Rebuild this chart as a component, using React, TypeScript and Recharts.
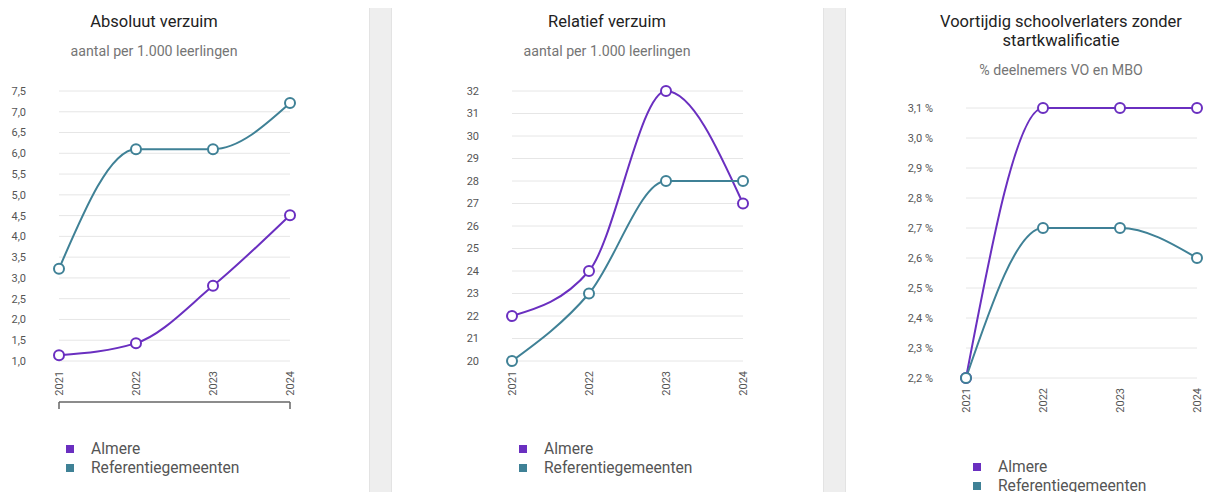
import { CartesianGrid, Legend, Line, LineChart, XAxis, YAxis } from 'recharts';

const years = ['2021', '2022', '2023', '2024'];

const absoluutAlmere = [1.14, 1.43, 2.81, 4.51];
const absoluutRef = [3.22, 6.1, 6.1, 7.21];
const absoluutTicks = [1.0, 1.5, 2.0, 2.5, 3.0, 3.5, 4.0, 4.5, 5.0, 5.5, 6.0, 6.5, 7.0, 7.5];

const relatiefAlmere = [22, 24, 32, 27];
const relatiefRef = [20, 23, 28, 28];
const relatiefTicks = [20, 21, 22, 23, 24, 25, 26, 27, 28, 29, 30, 31, 32];

const vslAlmere = [2.2, 3.1, 3.1, 3.1];
const vslRef = [2.2, 2.7, 2.7, 2.6];
const vslTicks = [2.2, 2.3, 2.4, 2.5, 2.6, 2.7, 2.8, 2.9, 3.0, 3.1];

const PURPLE = '#6a2fc0';
const TEAL = '#3f8196';
const FONT = 'Roboto, "Noto Sans", sans-serif';

const toRows = (a: number[], r: number[]) =>
  years.map((year, i) => ({ year, almere: a[i], ref: r[i] }));

const comma1 = (v: number) => v.toFixed(1).replace('.', ',');

function YearTick({ x, y, payload }: any) {
  return (
    <text
      x={x}
      y={y}
      transform={`rotate(-90 ${x} ${y})`}
      textAnchor="end"
      dy="0.35em"
      fontSize={11}
      fill="#555"
      fontFamily={FONT}
    >
      {payload.value}
    </text>
  );
}

// bracket under the first chart: only the tick lines, no labels
const NoLabel = () => <g />;

function LegendBox({ payload }: any) {
  return (
    <ul style={{ listStyle: 'none', margin: 0, padding: 0, fontFamily: FONT }}>
      {(payload || []).map((e: any) => (
        <li
          key={e.value}
          style={{ display: 'flex', alignItems: 'center', height: 19, fontSize: 15.6, color: '#555' }}
        >
          <span style={{ width: 8, height: 8, background: e.color, marginRight: 17, flex: 'none' }} />
          {e.value}
        </li>
      ))}
    </ul>
  );
}

interface PanelProps {
  left: number;
  title: string;
  subtitle: string;
  titleWidth?: number;
  plotTop: number;
  rows: { year: string; almere: number; ref: number }[];
  ticks: number[];
  fmt: (v: number) => string;
  bracket?: boolean;
}

function Panel({ left, title, subtitle, titleWidth = 430, plotTop, rows, ticks, fmt, bracket }: PanelProps) {
  return (
    <div style={{ position: 'absolute', left, top: 0, width: 430, height: 492 }}>
      <div style={{ position: 'absolute', top: 12, left: 0, width: 430, textAlign: 'center' }}>
        <div
          style={{
            display: 'inline-block',
            maxWidth: titleWidth,
            fontSize: 16.5,
            lineHeight: '19px',
            fontWeight: 400,
            color: '#222',
          }}
        >
          {title}
        </div>
        <div style={{ marginTop: 12, fontSize: 14.2, lineHeight: '16px', fontWeight: 400, color: '#757575' }}>
          {subtitle}
        </div>
      </div>
      <div style={{ position: 'absolute', left: 0, top: plotTop - 10 }}>
        <LineChart width={430} height={402} data={rows} margin={{ top: 10, right: 79, bottom: 5, left: 0 }}>
          <CartesianGrid vertical={false} stroke="#e6e6e6" />
          <XAxis
            dataKey="year"
            axisLine={false}
            tickLine={false}
            tickMargin={4}
            interval={0}
            height={bracket ? 41 : 79}
            tick={<YearTick />}
          />
          {bracket && (
            <XAxis
              xAxisId="b"
              dataKey="year"
              interval={2}
              tick={<NoLabel />}
              tickSize={7}
              height={38}
              axisLine={{ stroke: '#666', strokeWidth: 1.5 }}
              tickLine={{ stroke: '#666', strokeWidth: 1.5 }}
            />
          )}
          <YAxis
            width={120}
            type="number"
            domain={[ticks[0], ticks[ticks.length - 1]]}
            ticks={ticks}
            interval={0}
            axisLine={false}
            tickLine={false}
            tickSize={0}
            tickMargin={33}
            tickFormatter={fmt}
            tick={{ fontSize: 11, fill: '#555', fontFamily: FONT }}
          />
          <Legend
            verticalAlign="bottom"
            align="left"
            content={<LegendBox />}
            wrapperStyle={{ left: 127, width: 250 }}
          />
          <Line
            name="Almere"
            dataKey="almere"
            type="monotone"
            stroke={PURPLE}
            strokeWidth={2}
            dot={{ r: 5, fill: '#fff', strokeWidth: 2 }}
            isAnimationActive={false}
          />
          <Line
            name="Referentiegemeenten"
            dataKey="ref"
            type="monotone"
            stroke={TEAL}
            strokeWidth={2}
            dot={{ r: 5, fill: '#fff', strokeWidth: 2 }}
            isAnimationActive={false}
          />
        </LineChart>
      </div>
    </div>
  );
}

const sepStyle = (left: number): React.CSSProperties => ({
  position: 'absolute',
  left,
  top: 8,
  width: 21,
  height: 484,
  background: '#eeeeee',
  borderLeft: '1px solid #e3e3e3',
  borderRight: '1px solid #e3e3e3',
});

export default function App() {
  return (
    <div
      style={{
        position: 'fixed',
        left: 0,
        top: 0,
        width: 1206,
        height: 492,
        overflow: 'hidden',
        background: '#fff',
        fontFamily: FONT,
      }}
    >
      <Panel
        left={-61}
        title="Absoluut verzuim"
        subtitle="aantal per 1.000 leerlingen"
        plotTop={90.7}
        rows={toRows(absoluutAlmere, absoluutRef)}
        ticks={absoluutTicks}
        fmt={comma1}
        bracket
      />
      <div style={sepStyle(369)} />
      <Panel
        left={392}
        title="Relatief verzuim"
        subtitle="aantal per 1.000 leerlingen"
        plotTop={90.7}
        rows={toRows(relatiefAlmere, relatiefRef)}
        ticks={relatiefTicks}
        fmt={(v) => String(v)}
      />
      <div style={sepStyle(823)} />
      <Panel
        left={846}
        title="Voortijdig schoolverlaters zonder startkwalificatie"
        subtitle="% deelnemers VO en MBO"
        titleWidth={260}
        plotTop={108.3}
        rows={toRows(vslAlmere, vslRef)}
        ticks={vslTicks}
        fmt={(v) => comma1(v) + ' %'}
      />
    </div>
  );
}
